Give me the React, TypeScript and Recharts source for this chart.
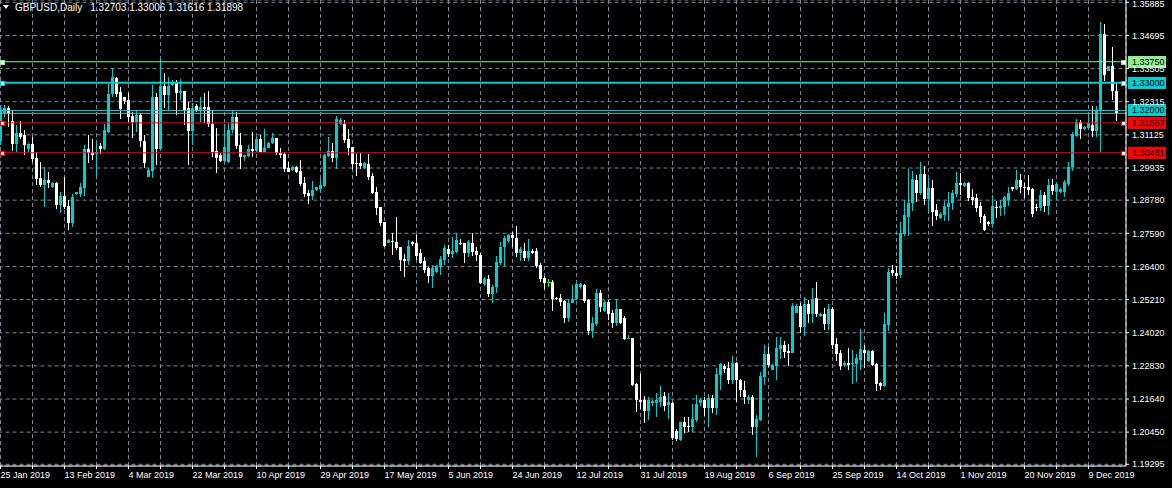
import React from 'react';
import { ComposedChart, Bar, XAxis, YAxis, CartesianGrid, ReferenceLine } from 'recharts';

// ---- DATA (GBPUSD daily) ----
const opens = [
  1.3090, 1.3191, 1.3209, 1.3162, 1.3080, 1.3119, 1.3112, 1.3062, 1.3080, 1.3029,
  1.2958, 1.2933, 1.2950, 1.2925, 1.2940, 1.2861, 1.2893, 1.2857, 1.2796, 1.2900,
  1.2900, 1.2922, 1.3062, 1.3051, 1.3044, 1.3073, 1.3062, 1.3123, 1.3259, 1.3317,
  1.3267, 1.3249, 1.3238, 1.3180, 1.3159, 1.3184, 1.3091, 1.2961, 1.2983, 1.3249,
  1.3062, 1.3288, 1.3256, 1.3292, 1.3302, 1.3263, 1.3270, 1.3209, 1.3127, 1.3216,
  1.3198, 1.3213, 1.3213, 1.3152, 1.3054, 1.3040, 1.3018, 1.3015, 1.3130, 1.3177,
  1.3076, 1.3033, 1.3037, 1.3062, 1.3055, 1.3098, 1.3051, 1.3065, 1.3083, 1.3102,
  1.3047, 1.3044, 1.2994, 1.2986, 1.2997, 1.2983, 1.2940, 1.2904, 1.2893, 1.2915,
  1.2918, 1.2929, 1.3037, 1.3055, 1.3029, 1.3152, 1.3152, 1.3098, 1.3069, 1.3011,
  1.3011, 1.2994, 1.3008, 1.2965, 1.2907, 1.2854, 1.2800, 1.2725, 1.2732, 1.2728,
  1.2710, 1.2667, 1.2660, 1.2728, 1.2725, 1.2689, 1.2660, 1.2635, 1.2606, 1.2620,
  1.2639, 1.2664, 1.2703, 1.2685, 1.2692, 1.2725, 1.2725, 1.2689, 1.2725, 1.2696,
  1.2681, 1.2578, 1.2595, 1.2542, 1.2567, 1.2653, 1.2710, 1.2732, 1.2753, 1.2743,
  1.2689, 1.2696, 1.2671, 1.2696, 1.2696, 1.2646, 1.2599, 1.2585, 1.2585, 1.2527,
  1.2527, 1.2517, 1.2455, 1.2509, 1.2524, 1.2567, 1.2574, 1.2520, 1.2409, 1.2434,
  1.2545, 1.2481, 1.2513, 1.2473, 1.2437, 1.2488, 1.2455, 1.2380, 1.2384, 1.2218,
  1.2161, 1.2161, 1.2122, 1.2150, 1.2150, 1.2154, 1.2175, 1.2143, 1.2150, 1.2050,
  1.2018, 1.2082, 1.2068, 1.2064, 1.2089, 1.2150, 1.2161, 1.2132, 1.2168, 1.2132,
  1.2251, 1.2283, 1.2276, 1.2233, 1.2294, 1.2233, 1.2197, 1.2161, 1.2172, 1.2064,
  1.2089, 1.2244, 1.2326, 1.2269, 1.2283, 1.2344, 1.2358, 1.2337, 1.2330, 1.2474,
  1.2498, 1.2423, 1.2506, 1.2470, 1.2527, 1.2463, 1.2470, 1.2434, 1.2488, 1.2362,
  1.2330, 1.2287, 1.2294, 1.2290, 1.2290, 1.2305, 1.2341, 1.2301, 1.2337, 1.2290,
  1.2222, 1.2211, 1.2430, 1.2627, 1.2617, 1.2610, 1.2757, 1.2818, 1.2868, 1.2951,
  1.2904, 1.2972, 1.2882, 1.2922, 1.2843, 1.2814, 1.2825, 1.2854, 1.2868, 1.2900,
  1.2940, 1.2929, 1.2940, 1.2889, 1.2886, 1.2857, 1.2821, 1.2800, 1.2793, 1.2854,
  1.2850, 1.2854, 1.2879, 1.2925, 1.2918, 1.2951, 1.2925, 1.2925, 1.2918, 1.2854,
  1.2850, 1.2897, 1.2857, 1.2933, 1.2907, 1.2907, 1.2907, 1.2936, 1.2997, 1.3109,
  1.3159, 1.3134, 1.3137, 1.3148, 1.3127, 1.3198, 1.3475, 1.3342, 1.3360, 1.32703,
];
const highs = [
  1.3220, 1.3220, 1.3216, 1.3198, 1.3148, 1.3162, 1.3130, 1.3083, 1.3105, 1.3051,
  1.3015, 1.2997, 1.2979, 1.2943, 1.2943, 1.2907, 1.2961, 1.2879, 1.2900, 1.2907,
  1.2940, 1.3076, 1.3112, 1.3098, 1.3083, 1.3083, 1.3151, 1.3295, 1.3353, 1.3320,
  1.3284, 1.3249, 1.3263, 1.3195, 1.3202, 1.3191, 1.3112, 1.2994, 1.3292, 1.3263,
  1.3385, 1.3335, 1.3320, 1.3310, 1.3310, 1.3313, 1.3270, 1.3231, 1.3227, 1.3223,
  1.3249, 1.3263, 1.3270, 1.3198, 1.3137, 1.3047, 1.3152, 1.3155, 1.3198, 1.3195,
  1.3119, 1.3040, 1.3076, 1.3123, 1.3105, 1.3112, 1.3134, 1.3087, 1.3119, 1.3102,
  1.3065, 1.3051, 1.3015, 1.3001, 1.3001, 1.3022, 1.2961, 1.2915, 1.2947, 1.2925,
  1.2954, 1.3044, 1.3105, 1.3083, 1.3180, 1.3173, 1.3166, 1.3134, 1.3069, 1.3044,
  1.3047, 1.3015, 1.3044, 1.2976, 1.2925, 1.2854, 1.2800, 1.2739, 1.2760, 1.2818,
  1.2710, 1.2685, 1.2735, 1.2732, 1.2753, 1.2703, 1.2675, 1.2639, 1.2646, 1.2646,
  1.2678, 1.2718, 1.2718, 1.2746, 1.2760, 1.2739, 1.2725, 1.2735, 1.2760, 1.2710,
  1.2689, 1.2603, 1.2610, 1.2574, 1.2678, 1.2728, 1.2750, 1.2757, 1.2764, 1.2786,
  1.2710, 1.2725, 1.2739, 1.2703, 1.2707, 1.2653, 1.2606, 1.2596, 1.2592, 1.2531,
  1.2542, 1.2520, 1.2524, 1.2574, 1.2581, 1.2581, 1.2578, 1.2524, 1.2459, 1.2560,
  1.2556, 1.2520, 1.2520, 1.2484, 1.2524, 1.2488, 1.2463, 1.2394, 1.2384, 1.2222,
  1.2254, 1.2175, 1.2172, 1.2161, 1.2186, 1.2211, 1.2190, 1.2186, 1.2154, 1.2057,
  1.2082, 1.2100, 1.2100, 1.2147, 1.2179, 1.2168, 1.2172, 1.2182, 1.2179, 1.2276,
  1.2294, 1.2290, 1.2298, 1.2319, 1.2298, 1.2236, 1.2229, 1.2179, 1.2179, 1.2107,
  1.2261, 1.2358, 1.2351, 1.2290, 1.2387, 1.2387, 1.2373, 1.2362, 1.2509, 1.2506,
  1.2509, 1.2531, 1.2520, 1.2563, 1.2585, 1.2473, 1.2491, 1.2506, 1.2495, 1.2384,
  1.2341, 1.2301, 1.2348, 1.2341, 1.2326, 1.2416, 1.2358, 1.2341, 1.2341, 1.2294,
  1.2225, 1.2473, 1.2635, 1.2646, 1.2642, 1.2800, 1.2879, 1.2990, 1.2983, 1.2968,
  1.3015, 1.3001, 1.2958, 1.2951, 1.2864, 1.2836, 1.2875, 1.2907, 1.2915, 1.2979,
  1.2976, 1.2943, 1.2943, 1.2918, 1.2900, 1.2871, 1.2828, 1.2803, 1.2897, 1.2875,
  1.2879, 1.2893, 1.2925, 1.2925, 1.2986, 1.2972, 1.2940, 1.2968, 1.2922, 1.2864,
  1.2915, 1.2907, 1.2954, 1.2954, 1.2940, 1.2922, 1.2951, 1.3015, 1.3123, 1.3170,
  1.3166, 1.3145, 1.3188, 1.3216, 1.3216, 1.3518, 1.3511, 1.3360, 1.3428, 1.33006,
];
const lows = [
  1.3075, 1.3177, 1.3141, 1.3054, 1.3051, 1.3098, 1.3040, 1.3051, 1.3015, 1.2933,
  1.2925, 1.2854, 1.2922, 1.2922, 1.2846, 1.2832, 1.2846, 1.2771, 1.2782, 1.2898,
  1.2889, 1.2893, 1.3011, 1.3022, 1.2965, 1.3044, 1.3058, 1.3119, 1.3249, 1.3249,
  1.3170, 1.3223, 1.3159, 1.3101, 1.3123, 1.3069, 1.2994, 1.2961, 1.2958, 1.3004,
  1.3058, 1.3209, 1.3202, 1.3288, 1.3184, 1.3238, 1.3148, 1.3004, 1.3076, 1.3195,
  1.3159, 1.3155, 1.3141, 1.3033, 1.2976, 1.3015, 1.3011, 1.3011, 1.3119, 1.3062,
  1.2990, 1.3018, 1.3033, 1.3033, 1.3051, 1.3051, 1.3051, 1.3065, 1.3080, 1.3040,
  1.3029, 1.2979, 1.2979, 1.2983, 1.2976, 1.2929, 1.2889, 1.2864, 1.2879, 1.2911,
  1.2904, 1.2925, 1.3033, 1.3015, 1.2990, 1.3148, 1.3083, 1.3040, 1.2990, 1.2965,
  1.2990, 1.2990, 1.2951, 1.2900, 1.2825, 1.2785, 1.2710, 1.2725, 1.2682, 1.2700,
  1.2624, 1.2603, 1.2646, 1.2714, 1.2664, 1.2649, 1.2617, 1.2581, 1.2563, 1.2617,
  1.2610, 1.2646, 1.2674, 1.2671, 1.2689, 1.2718, 1.2653, 1.2675, 1.2678, 1.2660,
  1.2578, 1.2570, 1.2531, 1.2509, 1.2545, 1.2646, 1.2642, 1.2725, 1.2710, 1.2675,
  1.2660, 1.2660, 1.2660, 1.2685, 1.2635, 1.2585, 1.2560, 1.2567, 1.2481, 1.2520,
  1.2499, 1.2437, 1.2441, 1.2509, 1.2520, 1.2560, 1.2509, 1.2394, 1.2384, 1.2427,
  1.2477, 1.2477, 1.2448, 1.2419, 1.2427, 1.2434, 1.2376, 1.2380, 1.2211, 1.2118,
  1.2129, 1.2079, 1.2089, 1.2139, 1.2100, 1.2136, 1.2122, 1.2093, 1.2018, 1.2014,
  1.2014, 1.2043, 1.2046, 1.2046, 1.2082, 1.2139, 1.2104, 1.2064, 1.2114, 1.2107,
  1.2197, 1.2258, 1.2218, 1.2218, 1.2154, 1.2172, 1.2147, 1.2147, 1.2036, 1.1956,
  1.2086, 1.2215, 1.2280, 1.2269, 1.2233, 1.2308, 1.2312, 1.2283, 1.2330, 1.2474,
  1.2401, 1.2391, 1.2437, 1.2437, 1.2459, 1.2459, 1.2412, 1.2412, 1.2344, 1.2301,
  1.2269, 1.2280, 1.2269, 1.2218, 1.2226, 1.2269, 1.2276, 1.2298, 1.2283, 1.2193,
  1.2197, 1.2208, 1.2409, 1.2606, 1.2595, 1.2599, 1.2750, 1.2750, 1.2839, 1.2871,
  1.2897, 1.2861, 1.2836, 1.2785, 1.2807, 1.2810, 1.2803, 1.2803, 1.2843, 1.2889,
  1.2897, 1.2925, 1.2875, 1.2861, 1.2836, 1.2796, 1.2768, 1.2785, 1.2782, 1.2814,
  1.2821, 1.2825, 1.2857, 1.2911, 1.2915, 1.2904, 1.2886, 1.2897, 1.2818, 1.2839,
  1.2839, 1.2836, 1.2825, 1.2897, 1.2879, 1.2904, 1.2889, 1.2929, 1.2983, 1.3105,
  1.3098, 1.3130, 1.3130, 1.3105, 1.3105, 1.3051, 1.3306, 1.3342, 1.3238, 1.31616,
];
const closes = [
  1.3205, 1.3209, 1.3191, 1.3080, 1.3119, 1.3105, 1.3076, 1.3080, 1.3026, 1.2954,
  1.2933, 1.2950, 1.2940, 1.2940, 1.2861, 1.2893, 1.2854, 1.2796, 1.2889, 1.2907,
  1.2925, 1.3062, 1.3047, 1.3040, 1.3051, 1.3062, 1.3130, 1.3259, 1.3320, 1.3259,
  1.3205, 1.3234, 1.3177, 1.3159, 1.3184, 1.3091, 1.3011, 1.2986, 1.3249, 1.3062,
  1.3288, 1.3256, 1.3288, 1.3302, 1.3263, 1.3270, 1.3198, 1.3127, 1.3209, 1.3202,
  1.3213, 1.3205, 1.3152, 1.3051, 1.3029, 1.3018, 1.3069, 1.3130, 1.3177, 1.3073,
  1.3033, 1.3040, 1.3062, 1.3055, 1.3098, 1.3051, 1.3065, 1.3083, 1.3102, 1.3047,
  1.3040, 1.2990, 1.2979, 1.2997, 1.2979, 1.2936, 1.2900, 1.2893, 1.2915, 1.2925,
  1.2933, 1.3040, 1.3055, 1.3029, 1.3170, 1.3166, 1.3094, 1.3065, 1.3008, 1.3008,
  1.3001, 1.3011, 1.2961, 1.2904, 1.2850, 1.2796, 1.2714, 1.2735, 1.2728, 1.2707,
  1.2664, 1.2660, 1.2714, 1.2721, 1.2678, 1.2653, 1.2628, 1.2606, 1.2635, 1.2642,
  1.2667, 1.2707, 1.2685, 1.2696, 1.2735, 1.2721, 1.2689, 1.2728, 1.2692, 1.2681,
  1.2581, 1.2595, 1.2542, 1.2567, 1.2656, 1.2710, 1.2743, 1.2753, 1.2743, 1.2689,
  1.2703, 1.2671, 1.2696, 1.2689, 1.2642, 1.2595, 1.2581, 1.2585, 1.2524, 1.2524,
  1.2513, 1.2455, 1.2509, 1.2524, 1.2578, 1.2578, 1.2517, 1.2409, 1.2437, 1.2545,
  1.2495, 1.2513, 1.2470, 1.2437, 1.2488, 1.2437, 1.2380, 1.2384, 1.2215, 1.2161,
  1.2154, 1.2122, 1.2161, 1.2158, 1.2161, 1.2172, 1.2139, 1.2154, 1.2025, 1.2021,
  1.2082, 1.2064, 1.2064, 1.2093, 1.2147, 1.2161, 1.2132, 1.2168, 1.2132, 1.2254,
  1.2290, 1.2272, 1.2233, 1.2294, 1.2233, 1.2197, 1.2172, 1.2172, 1.2064, 1.2093,
  1.2247, 1.2326, 1.2287, 1.2287, 1.2348, 1.2358, 1.2333, 1.2330, 1.2498, 1.2498,
  1.2423, 1.2506, 1.2470, 1.2524, 1.2470, 1.2470, 1.2434, 1.2488, 1.2358, 1.2326,
  1.2283, 1.2294, 1.2287, 1.2294, 1.2312, 1.2344, 1.2330, 1.2337, 1.2287, 1.2218,
  1.2211, 1.2434, 1.2620, 1.2617, 1.2606, 1.2760, 1.2825, 1.2868, 1.2954, 1.2904,
  1.2972, 1.2882, 1.2922, 1.2836, 1.2821, 1.2828, 1.2857, 1.2868, 1.2904, 1.2940,
  1.2933, 1.2940, 1.2886, 1.2879, 1.2850, 1.2818, 1.2771, 1.2793, 1.2857, 1.2850,
  1.2857, 1.2889, 1.2904, 1.2918, 1.2951, 1.2925, 1.2922, 1.2915, 1.2828, 1.2850,
  1.2897, 1.2857, 1.2933, 1.2911, 1.2936, 1.2918, 1.2943, 1.2997, 1.3116, 1.3159,
  1.3134, 1.3141, 1.3155, 1.3127, 1.3202, 1.3475, 1.3328, 1.3360, 1.3270, 1.31898,
];

const dateLabels = [
  '25 Jan 2019', '13 Feb 2019', '4 Mar 2019', '22 Mar 2019', '10 Apr 2019', '29 Apr 2019',
  '17 May 2019', '5 Jun 2019', '24 Jun 2019', '12 Jul 2019', '31 Jul 2019', '19 Aug 2019',
  '6 Sep 2019', '25 Sep 2019', '14 Oct 2019', '1 Nov 2019', '20 Nov 2019', '9 Dec 2019',
];
const priceTickLabels = [
  '1.35885', '1.34695', '1.33505', '1.32315', '1.31125', '1.29935', '1.28780', '1.27590',
  '1.26400', '1.25210', '1.24020', '1.22830', '1.21640', '1.20450', '1.19295',
];
const levelPrices = [1.3375, 1.33, 1.32, 1.31557, 1.30481];
const levelColors = ['#90EE90', '#00CED1', '#00CED1', '#FF0000', '#FF0000'];
const levelWidths = [1, 2, 1, 1, 1];
const levelMarkers = [true, true, false, true, true];
const symbolName = 'GBPUSD,Daily';

// ---- styling constants ----
const BULL = '#00CED1';
const BEAR = '#FFFFFF';
const DOJI = '#00FF00';
const GRID = '#778899';
const BID = '#A0A0A0';
const FONT = '"Liberation Sans", Arial, sans-serif';
const BARS_PER_LABEL = 16;
const BARS_PER_GRID = 8;

const data = opens.map((o, i) => ({
  i,
  open: o,
  high: highs[i],
  low: lows[i],
  close: closes[i],
  range: [lows[i], highs[i]],
}));

const xTicks: number[] = [];
dateLabels.forEach((_, k) => {
  xTicks.push(k * BARS_PER_LABEL);
  if (k * BARS_PER_LABEL + BARS_PER_GRID < data.length) xTicks.push(k * BARS_PER_LABEL + BARS_PER_GRID);
});
const yTicks = priceTickLabels.map((s) => parseFloat(s));
const last = data[data.length - 1];
const bidPrice = last.close;

const Candle = (props: any) => {
  const { x, y, width, height, payload } = props;
  if (!payload) return null;
  const { open, close, high, low } = payload;
  const cx = Math.round(x + width / 2 - 0.5) + 0.5;
  const span = high - low;
  const k = span > 0 ? height / span : 0;
  const yOf = (p: number) => y + (high - p) * k;
  const color = close > open ? BULL : close < open ? BEAR : DOJI;
  const wTop = Math.round(y);
  const wBot = Math.round(y + height);
  const top = Math.round(yOf(Math.max(open, close)));
  const bot = Math.round(yOf(Math.min(open, close)));
  return (
    <g shapeRendering="crispEdges">
      <line x1={cx} x2={cx} y1={wTop} y2={Math.max(wBot, wTop + 1)} stroke={color} strokeWidth={1} />
      {close === open ? (
        <line x1={cx - 2} x2={cx + 2} y1={top + 0.5} y2={top + 0.5} stroke={color} strokeWidth={1} />
      ) : (
        <rect x={cx - 1.5} y={top} width={3} height={Math.max(1, bot - top)} fill={color} />
      )}
    </g>
  );
};

const XTick = (props: any) => {
  const { x, y, payload } = props;
  const v = payload.value as number;
  if (v % BARS_PER_LABEL !== 0) return null;
  return (
    <text x={x} y={y} dy="0.71em" textAnchor="start" fill="#FFFFFF" fontSize={9} fontFamily={FONT}>
      {dateLabels[v / BARS_PER_LABEL]}
    </text>
  );
};

const YTick = (props: any) => {
  const { x, y, payload } = props;
  const v = payload.value as number;
  return (
    <text x={x} y={Math.max(y, 4)} dy="0.355em" textAnchor="start" fill="#FFFFFF" fontSize={9} fontFamily={FONT}>
      {v.toFixed(5)}
    </text>
  );
};

const LevelLabel = (props: any) => {
  const { viewBox, price, color, marker } = props;
  if (!viewBox) return null;
  const left = viewBox.x;
  const right = viewBox.x + viewBox.width;
  const cy = Math.round(viewBox.y);
  return (
    <g shapeRendering="crispEdges">
      {marker && (
        <>
          <rect x={Math.max(0, Math.round(left))} y={cy - 2} width={5} height={5} fill={color} />
          <rect x={Math.max(0, Math.round(left)) + 1} y={cy - 1} width={3} height={3} fill="#FFFFFF" />
          <rect x={Math.round(right) - 5} y={cy - 2} width={5} height={5} fill={color} />
          <rect x={Math.round(right) - 4} y={cy - 1} width={3} height={3} fill="#FFFFFF" />
        </>
      )}
      <rect x={Math.round(right) + 2} y={cy - 6} width={38} height={12} fill={color} />
      <text x={Math.round(right) + 6} y={cy} dy="0.355em" fill="#000000" fontSize={9} fontFamily={FONT}>
        {price.toFixed(5)}
      </text>
    </g>
  );
};

export default function App() {
  return (
    <div
      style={{
        position: 'fixed',
        left: 0,
        top: 0,
        width: 1172,
        height: 488,
        background: '#000000',
        overflow: 'hidden',
      }}
    >
      <ComposedChart
        width={1172}
        height={488}
        data={data}
        margin={{ top: 0, right: 0, bottom: 0, left: -1.5 }}
        barCategoryGap={0}
        barGap={0}
      >
        <CartesianGrid stroke={GRID} strokeDasharray="4 3" />
        <XAxis
          dataKey="i"
          type="category"
          ticks={xTicks}
          interval={0}
          padding={{ left: 0, right: 7.5 }}
          height={22}
          axisLine={{ stroke: '#FFFFFF' }}
          tickLine={{ stroke: '#FFFFFF' }}
          tickSize={3}
          tickMargin={3}
          tick={<XTick />}
        />
        <YAxis
          orientation="right"
          type="number"
          width={46}
          domain={[1.19234, 1.35968]}
          allowDataOverflow
          ticks={yTicks}
          interval={0}
          tick={<YTick />}
          axisLine={{ stroke: '#FFFFFF' }}
          tickLine={{ stroke: '#FFFFFF' }}
          tickSize={3}
          tickMargin={3}
        />
        <Bar dataKey="range" shape={<Candle />} isAnimationActive={false} />
        <ReferenceLine y={bidPrice} stroke={BID} strokeWidth={1} />
        {levelPrices.map((p, k) => (
          <ReferenceLine
            key={k}
            y={p}
            stroke={levelColors[k]}
            strokeWidth={levelWidths[k]}
            label={<LevelLabel price={p} color={levelColors[k]} marker={levelMarkers[k]} />}
          />
        ))}
      </ComposedChart>
      <div
        style={{
          position: 'absolute',
          left: 0,
          top: 0,
          height: 14,
          display: 'flex',
          alignItems: 'center',
          fontFamily: FONT,
          fontSize: 10,
          color: '#FFFFFF',
          whiteSpace: 'pre',
        }}
      >
        <svg width={15} height={14} style={{ display: 'block' }}>
          <polygon points="3,5 9,5 6,9" fill="#FFFFFF" />
        </svg>
        <span>{symbolName}</span>
        <span style={{ marginLeft: 8 }}>
          {[last.open, last.high, last.low, last.close].map((v) => v.toFixed(5)).join(' ')}
        </span>
      </div>
    </div>
  );
}
